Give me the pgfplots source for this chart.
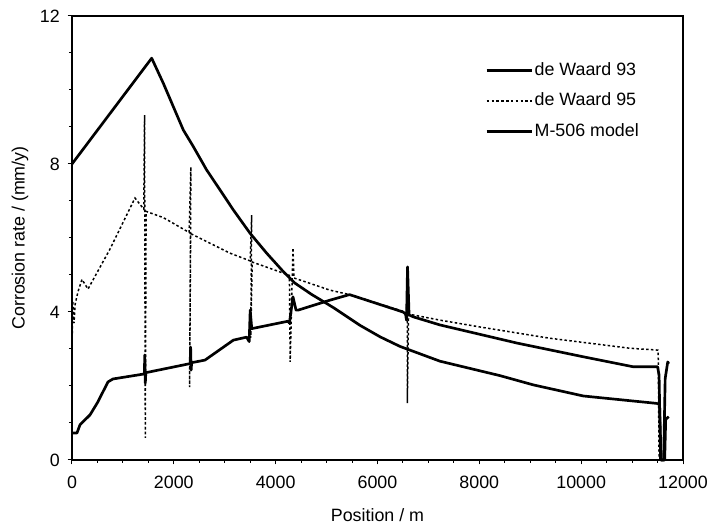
\documentclass[border=0pt]{standalone}
\usepackage{pgfplots}
\pgfplotsset{compat=1.18}
\usepackage{fontspec}
\setmainfont{Liberation Sans}
\begin{document}
\fontsize{10.7pt}{13pt}\selectfont
\begin{tikzpicture}
\useasboundingbox (-43.2pt,-39pt) rectangle (382.8pt,276pt);
\begin{axis}[
  at={(0pt,0pt)}, anchor=origin,
  scale only axis, width=366.6pt, height=266.4pt,
  xmin=0, xmax=12000, ymin=0, ymax=12,
  xtick={0,2000,4000,6000,8000,10000,12000},
  ytick={0,4,8,12},
  scaled x ticks=false,
  minor x tick num=3, minor y tick num=3,
  tick pos=left, tick align=outside,
  major tick length=2.6pt, minor tick length=1.8pt,
  every tick/.style={black, line width=0.6pt},
  axis line style={line width=0.8pt},
  /pgf/number format/assume math mode=true,
  /pgf/number format/set thousands separator={},
  tick label style={font=\fontsize{10.7pt}{13pt}\selectfont},
  xticklabel style={yshift=-3pt},
  yticklabel style={xshift=-1pt},
  xlabel={Position / m},
  ylabel={Corrosion rate / (mm/y)},
  xlabel style={at={(axis description cs:0.5,0)}, anchor=center, yshift=-33pt},
  ylabel style={at={(axis description cs:-0.085,0.5)}, anchor=center},
  legend cell align=left,
  legend style={at={(axis description cs:0.676,0.9)}, anchor=north west, draw=none, fill=none,
    font=\fontsize{10.7pt}{13pt}\selectfont, row sep=7pt, inner sep=0pt,
    nodes={inner sep=1pt}},
  legend image code/.code={\draw[#1] (0pt,0pt) -- (27pt,0pt);},
  clip=false,
]
% de Waard 93
\addplot[black, line width=1.6pt, line join=round] coordinates {
(0,8.0) (1565,10.86) (1794,10.18) (1990,9.55) (2186,8.92) (2383,8.47) (2644,7.84)
(2907,7.30) (3168,6.76) (3496,6.13) (3823,5.59) (4151,5.09) (4379,4.78) (4700,4.48)
(5132,4.12) (5656,3.64) (6049,3.33) (6441,3.07) (7227,2.67) (8405,2.28) (9060,2.03)
(10042,1.73) (11483,1.53) (11540,1.50)
(11570,0.0) (11640,0.0) (11660,1.10) (11720,1.17)
};
\addlegendentry{de Waard 93}
% de Waard 95
\addplot[black, line width=0.9pt, dash pattern=on 1.5pt off 1.4pt] coordinates {
(0,2.9) (15,4.3) (40,3.7) (60,4.2) (118,4.55) (196,4.88) (314,4.62) (746,5.7)
(1237,7.08) (1410,6.78) (1425,9.32) (1440,0.6) (1455,6.72) (1795,6.55) (2300,6.15)
(2335,7.92) (2310,1.97) (2330,6.12) (2650,5.90) (3103,5.59) (3500,5.38) (3530,6.62)
(3510,3.3) (3540,5.35) (3888,5.18) (4270,4.99) (4285,2.65) (4340,5.73) (4360,4.92)
(5067,4.59) (5450,4.47) (6500,4.02) (6570,3.90) (6590,5.22) (6585,1.54) (6610,3.93)
(6700,3.92) (7227,3.78) (8077,3.58) (9387,3.29) (10958,3.02) (11508,2.97) (11515,2.7)
(11530,0.0)
};
\addlegendentry{de Waard 95}
% M-506 model
\addplot[black, line width=1.6pt, line join=round] coordinates {
(0,0.73) (98,0.73) (157,0.95) (354,1.22) (500,1.55) (707,2.11) (805,2.19) (1394,2.32)
(1420,2.33) (1430,2.84) (1440,2.08) (1450,2.36) (2300,2.60) (2320,2.60) (2330,3.05)
(2340,2.43) (2350,2.63) (2612,2.70) (3170,3.24) (3430,3.32) (3480,3.20) (3500,4.05)
(3530,3.55) (3600,3.57) (4240,3.75) (4270,3.70) (4340,4.41) (4400,4.05) (4440,4.05)
(5067,4.32) (5450,4.47) (6500,4.00) (6550,3.95) (6570,3.78) (6590,5.22) (6620,3.92)
(6700,3.87) (7227,3.65) (8740,3.16) (10040,2.79) (11020,2.52) (11500,2.52) (11530,2.30)
(11560,0.0) (11620,0.0) (11650,2.20) (11700,2.65) (11720,2.60)
};
\addlegendentry{M-506 model}
\end{axis}
\end{tikzpicture}
\end{document}
